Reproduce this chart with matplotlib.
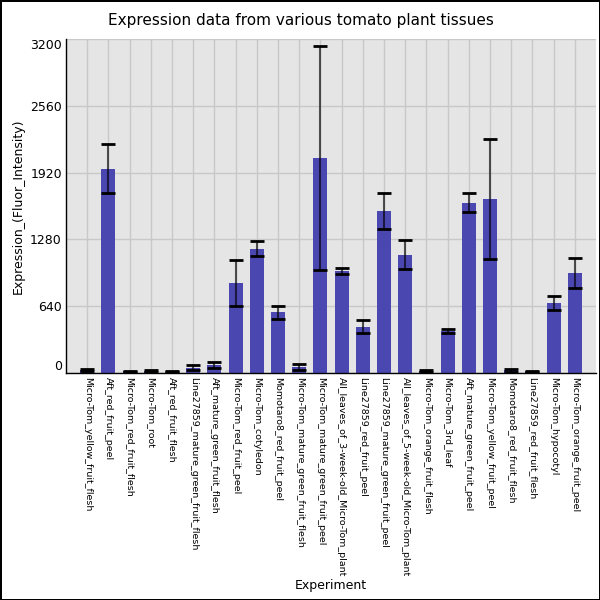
import numpy as np
import matplotlib
matplotlib.use('Agg')
import matplotlib.pyplot as plt

tissues = ['Micro-Tom_yellow_fruit_flesh', 'Aft_red_fruit_peel', 'Micro-Tom_red_fruit_flesh',
           'Micro-Tom_root', 'Aft_red_fruit_flesh', 'Line27859_mature_green_fruit_flesh',
           'Aft_mature_green_fruit_flesh', 'Micro-Tom_red_fruit_peel', 'Micro-Tom_cotyledon',
           'Momotaro8_red_fruit_peel', 'Micro-Tom_mature_green_fruit_flesh',
           'Micro-Tom_mature_green_fruit_peel', 'All_leaves_of_3-week-old_Micro-Tom_plant',
           'Line27859_red_fruit_peel', 'Line27859_mature_green_fruit_peel',
           'All_leaves_of_5-week-old_Micro-Tom_plant', 'Micro-Tom_orange_fruit_flesh',
           'Micro-Tom_3rd_leaf', 'Aft_mature_green_fruit_peel', 'Micro-Tom_yellow_fruit_peel',
           'Momotaro8_red_fruit_flesh', 'Line27859_red_fruit_flesh', 'Micro-Tom_hypocotyl',
           'Micro-Tom_orange_fruit_peel']
expression = [30, 1955, 16, 19, 13, 50, 78, 862, 1190, 582, 62, 2060, 975, 445,
              1550, 1133, 20, 405, 1632, 1667, 25, 15, 672, 960]
errors = [10, 235, 5, 8, 7, 25, 30, 222, 73, 64, 29, 1075, 30, 62,
          172, 137, 8, 19, 91, 577, 15, 5, 70, 145]
yticks = [0, 640, 1280, 1920, 2560, 3200]

fig = plt.figure(figsize=(6, 6), dpi=100)
fig.patch.set_edgecolor('black')
fig.patch.set_linewidth(2)
ax = fig.add_axes([0.11, 0.3783, 0.8833, 0.5567])
ax.set_facecolor('#e5e5e5')

x = np.arange(len(tissues))
ax.bar(x, expression, width=0.66, color='#4b47b1', zorder=2)
ax.errorbar(x, expression, yerr=errors, fmt='none', ecolor=(0, 0, 0, 0.65),
            elinewidth=1.5, capsize=0, zorder=3)
lo = np.array(expression) - np.array(errors)
hi = np.array(expression) + np.array(errors)
ax.hlines(np.concatenate([lo, hi]), np.concatenate([x, x]) - 0.33, np.concatenate([x, x]) + 0.33,
          colors='black', linewidth=2, zorder=4)

ax.set_xlim(-1, len(tissues))
ax.set_ylim(0, 3200)
ax.set_xticks(x)
ax.set_xticklabels(tissues, rotation=270, fontsize=6.8)
ax.set_yticks(yticks)
ax.set_yticklabels([str(v) for v in yticks], fontsize=9)
ax.get_yticklabels()[0].set_va('bottom')
ax.get_yticklabels()[-1].set_va('top')
ax.tick_params(axis='both', length=0, pad=3)
ax.grid(True, color='#c8c8c8', linewidth=1, zorder=0)
ax.set_axisbelow(True)
for s in ['top', 'right']:
    ax.spines[s].set_visible(False)
ax.spines['left'].set_linewidth(1)
ax.spines['bottom'].set_linewidth(1)

fig.text(0.502, 0.965, 'Expression data from various tomato plant tissues', ha='center',
         va='center', fontsize=11)
ax.set_ylabel('Expression_(Fluor_Intensity)', fontsize=9)
ax.yaxis.set_label_coords(-0.078, 0.5)
fig.text(0.552, 0.018, 'Experiment', ha='center', fontsize=9)

fig.savefig('out.png', dpi=100)
